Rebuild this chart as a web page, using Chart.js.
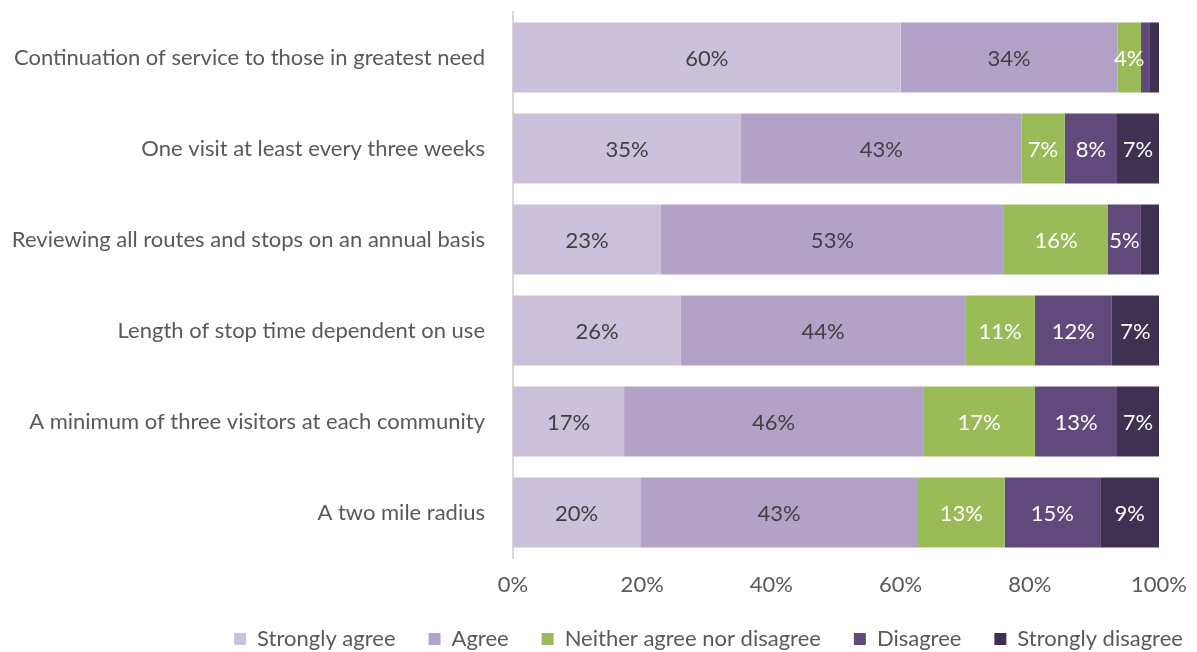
<!DOCTYPE html>
<html>
<head>
<meta charset="utf-8">
<script src="https://cdn.jsdelivr.net/npm/chart.js@4/dist/chart.umd.min.js"></script>
<style>
  html, body { margin: 0; padding: 0; background: #fff; }
  #wrap { width: 1197px; height: 652px; }
</style>
</head>
<body>
<div id="wrap"><canvas id="surveyChart"></canvas></div>
<script>
const categories = [
  'Continuation of service to those in greatest need',
  'One visit at least every three weeks',
  'Reviewing all routes and stops on an annual basis',
  'Length of stop time dependent on use',
  'A minimum of three visitors at each community',
  'A two mile radius'
];

const stronglyAgree = [60.0, 35.3, 22.9, 26.0, 17.2, 19.7];
const agree = [33.6, 43.4, 53.1, 44.0, 46.3, 43.0];
const neither = [3.6, 6.7, 16.1, 10.8, 17.3, 13.4];
const disagree = [1.4, 8.1, 5.1, 11.9, 12.7, 14.8];
const stronglyDisagree = [1.4, 6.5, 2.8, 7.3, 6.5, 9.1];

const xTicks = [0, 20, 40, 60, 80, 100];

const fontFamily = 'Lato, "Open Sans", sans-serif';

// draws the % text inside each bar segment
const segmentLabels = {
  id: 'segmentLabels',
  afterDatasetsDraw(chart) {
    const ctx = chart.ctx;
    ctx.save();
    ctx.font = '22px ' + fontFamily;
    ctx.textAlign = 'center';
    ctx.textBaseline = 'middle';
    chart.data.datasets.forEach((ds, i) => {
      const meta = chart.getDatasetMeta(i);
      meta.data.forEach((bar, j) => {
        const v = ds.data[j];
        if (v < 3) return;
        const p = bar.getCenterPoint();
        ctx.fillStyle = ds.labelColor;
        ctx.fillText(Math.round(v) + '%', p.x, p.y + 1);
      });
    });
    ctx.restore();
  }
};

// squeeze the legend box so it sits lower, and push it right
const legendFit = {
  id: 'legendFit',
  beforeLayout(chart) {
    const lg = chart.legend;
    if (!lg || lg._fitPatched) return;
    const orig = lg.fit;
    lg.fit = function () {
      orig.call(this);
      this.height = 55;
    };
    lg._fitPatched = true;
  },
  afterLayout(chart) {
    const lg = chart.legend;
    if (!lg) return;
    lg.left += 110;
    lg.right += 110;
  }
};

const surveyData = {
  labels: categories,
  datasets: [
    { label: 'Strongly agree', data: stronglyAgree, backgroundColor: '#ccc1da', labelColor: '#404040' },
    { label: 'Agree', data: agree, backgroundColor: '#b3a2c7', labelColor: '#404040' },
    { label: 'Neither agree nor disagree', data: neither, backgroundColor: '#9bbb59', labelColor: '#ffffff' },
    { label: 'Disagree', data: disagree, backgroundColor: '#604a7b', labelColor: '#ffffff' },
    { label: 'Strongly disagree', data: stronglyDisagree, backgroundColor: '#3f3151', labelColor: '#ffffff' }
  ]
};

const surveyConfig = {
  type: 'bar',
  data: surveyData,
  options: {
    indexAxis: 'y',
    responsive: true,
    maintainAspectRatio: false,
    animation: false,
    layout: { padding: { top: 12, right: 0, left: 0, bottom: 2 } },
    datasets: {
      bar: { categoryPercentage: 1.0, barPercentage: 0.77, borderWidth: 0 }
    },
    scales: {
      x: {
        stacked: true,
        min: 0,
        max: 100,
        grid: { display: false },
        border: { display: false },
        afterBuildTicks: (scale) => { scale.ticks = xTicks.map(v => ({ value: v })); },
        afterFit: (scale) => {
          scale.height = 37;
          scale.paddingRight = 38;
        },
        ticks: {
          padding: 6,
          color: '#595959',
          font: { family: fontFamily, size: 22 },
          callback: (v) => v + '%'
        }
      },
      y: {
        stacked: true,
        grid: { display: false },
        border: { display: true, color: '#d9d9d9', width: 2 },
        afterFit: (scale) => {
          scale.width = 513;
          scale.paddingTop = 0;
          scale.paddingBottom = 0;
        },
        ticks: {
          padding: 20,
          color: '#595959',
          font: { family: fontFamily, size: 22 }
        }
      }
    },
    plugins: {
      legend: {
        position: 'bottom',
        labels: {
          boxWidth: 12,
          boxHeight: 12,
          padding: 33,
          color: '#595959',
          font: { family: fontFamily, size: 22 }
        }
      },
      tooltip: { enabled: false }
    }
  },
  plugins: [segmentLabels, legendFit]
};

let surveyChart = new Chart(document.getElementById('surveyChart'), surveyConfig);
</script>
</body>
</html>
